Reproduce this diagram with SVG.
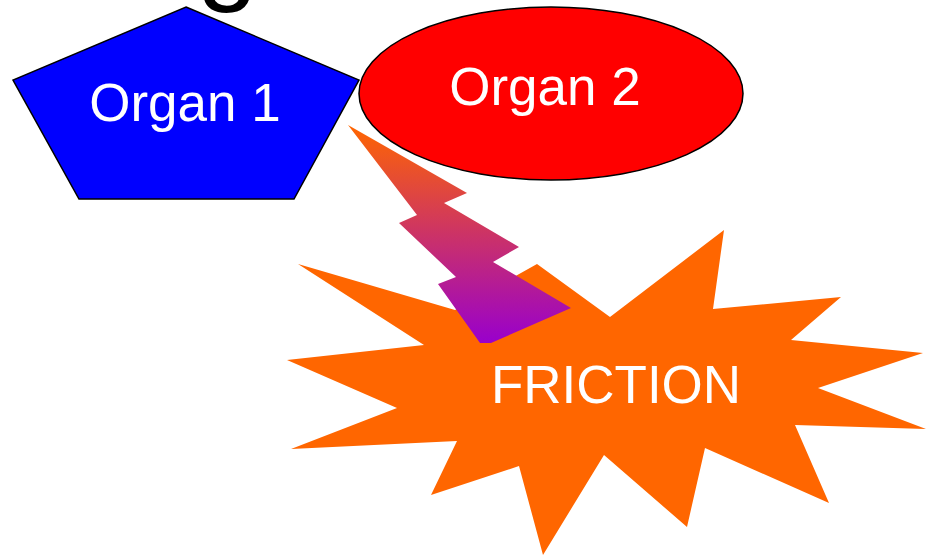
<svg xmlns="http://www.w3.org/2000/svg" width="926" height="557" viewBox="0 0 926 557">
  <style>
    .label { font-family: "Liberation Sans", Arial, sans-serif; fill: #FFFFFF; text-anchor: middle; }
    .outline { stroke: #000000; stroke-width: 1.5; stroke-linejoin: miter; }
  </style>
  <defs>
    <linearGradient id="boltFill" gradientUnits="userSpaceOnUse" x1="0" y1="125" x2="0" y2="343">
      <stop offset="0" stop-color="#FF6600"/>
      <stop offset="1" stop-color="#9900CC"/>
    </linearGradient>
  </defs>
  <rect width="926" height="557" fill="#FFFFFF"/>

  <!-- descender of the heading running off the top edge -->
  <text x="197" y="-10.5" font-family="Liberation Sans, Arial, sans-serif" font-size="110" fill="#000000">g</text>

  <g id="organ1">
    <polygon class="outline" points="186,7 359,80 294,199 79,199 13,80" fill="#0000FF"/>
    <text class="label" x="185" y="121" font-size="53">Organ 1</text>
  </g>

  <g id="organ2">
    <ellipse class="outline" cx="551" cy="93.5" rx="192" ry="86.5" fill="#FF0000"/>
    <text class="label" x="545" y="105" font-size="53">Organ 2</text>
  </g>

  <g id="friction">
    <polygon fill="#FF6600" points="298,264 455,310 537,264 610,317 724,230 713,309 841,297 791,340 923,353 818,388 926,429 795,425 829,503 705,448 687,527 604,455 543,555 519,466 431,495 457,441 291,449 397,408 287,360 424,345"/>
    <text class="label" x="616" y="403" font-size="53">FRICTION</text>
  </g>

  <g id="connectors">
    <!-- lightning bolt from the organs into the friction burst -->
    <polygon fill="url(#boltFill)" points="348,125 467,193 444,203 519,247 493,262 571,308 491,343 480,343 438,284 456,277 399,223 417,215"/>
  </g>
</svg>
